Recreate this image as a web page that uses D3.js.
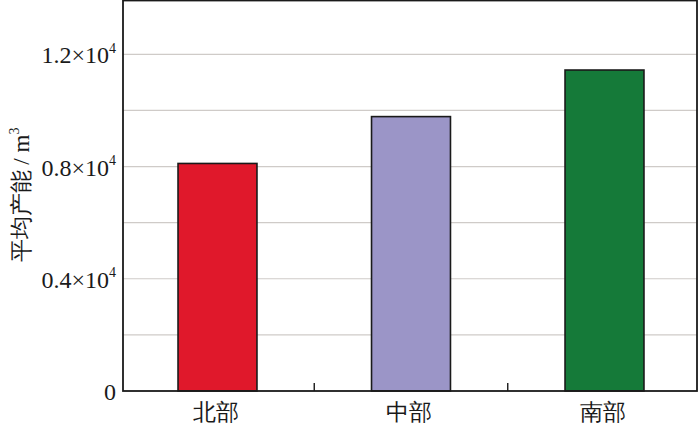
<html>
<script src='https://d3js.org/d3.v7.min.js'></script>
<style>
body {margin: 0; background: white;}
text {font-family: 'Liberation Serif', 'Times New Roman', serif;}
</style>
<body>
<svg width=700 height=424></svg>
<script>
const categories = ["北部", "中部", "南部"];
const values = [8110, 9780, 11440];
const colors = ["#e0182b", "#9b95c7", "#157a39"];
const tickValues = [0, 4000, 8000, 12000];
const tickMantissa = ["0", "0.4", "0.8", "1.2"];
const gridValues = [2000, 4000, 6000, 8000, 10000, 12000];

const svg = d3.select("svg");
const plotLeft = 123, plotRight = 697, plotTop = 0.5, plotBottom = 391;

const y = d3.scaleLinear().domain([0, 14000]).range([plotBottom, -1.8]);
const x = d3.scaleBand().domain(categories).range([120.75, 701.25]).paddingInner(0.592).paddingOuter(0.296);

// grid
svg.append("g")
  .selectAll("line")
  .data(gridValues)
  .enter()
  .append("line")
  .attr("x1", plotLeft).attr("x2", plotRight)
  .attr("y1", d => y(d)).attr("y2", d => y(d))
  .style("stroke", "#cfcbc8").style("stroke-width", 1.2);

// bars
svg.append("g")
  .selectAll("rect")
  .data(values)
  .enter()
  .append("rect")
  .attr("x", (d, i) => x(categories[i]))
  .attr("width", x.bandwidth())
  .attr("y", d => y(d))
  .attr("height", d => y(0) - y(d))
  .style("fill", (d, i) => colors[i])
  .style("stroke", "#1a1a1a")
  .style("stroke-width", 1.6);

// category boundary ticks on bottom axis
const mids = categories.slice(1).map((c, i) => (x(categories[i]) + x.bandwidth() + x(c)) / 2);
svg.append("g")
  .selectAll("line")
  .data(mids)
  .enter()
  .append("line")
  .attr("x1", d => d).attr("x2", d => d)
  .attr("y1", plotBottom).attr("y2", plotBottom - 8)
  .style("stroke", "#1a1a1a").style("stroke-width", 1.4);

// frame
svg.append("rect")
  .attr("x", plotLeft).attr("y", plotTop)
  .attr("width", plotRight - plotLeft).attr("height", plotBottom - plotTop)
  .style("fill", "none").style("stroke", "#1a1a1a").style("stroke-width", 1.8);

// y axis labels
const yAxis = d3.axisLeft(y).tickValues(tickValues).tickSize(0).tickPadding(7)
  .tickFormat((d, i) => tickMantissa[i]);
const gy = svg.append("g")
  .attr("transform", `translate(${plotLeft},0)`)
  .call(yAxis);
gy.select(".domain").remove();
gy.selectAll("text")
  .attr("font-size", 24)
  .attr("font-family", "'Liberation Serif', serif")
  .attr("fill", "#1a1a1a")
  .attr("dy", "0.36em")
  .each(function(d, i) {
    if (d === 0) return;
    const t = d3.select(this);
    t.text(tickMantissa[i] + "×10");
    t.append("tspan").attr("font-size", 14).attr("dy", "-0.75em").text("4");
  });

// x labels
svg.append("g")
  .selectAll("text")
  .data(categories)
  .enter()
  .append("text")
  .attr("x", d => x(d) + x.bandwidth() / 2 - 2)
  .attr("y", 420)
  .attr("text-anchor", "middle")
  .attr("font-size", 23)
  .attr("font-weight", 300)
  .attr("font-family", "'Noto Sans CJK SC', serif")
  .attr("fill", "#1a1a1a")
  .text(d => d);

// y title
svg.append("text")
  .attr("transform", "translate(29,195) rotate(-90)")
  .attr("text-anchor", "middle")
  .attr("font-size", 23)
  .attr("font-weight", 300)
  .attr("fill", "#1a1a1a")
  .text("平均产能 / m")
  .append("tspan").attr("font-size", 14).attr("dy", "-0.7em").text("3");
</script>
</body>
</html>
